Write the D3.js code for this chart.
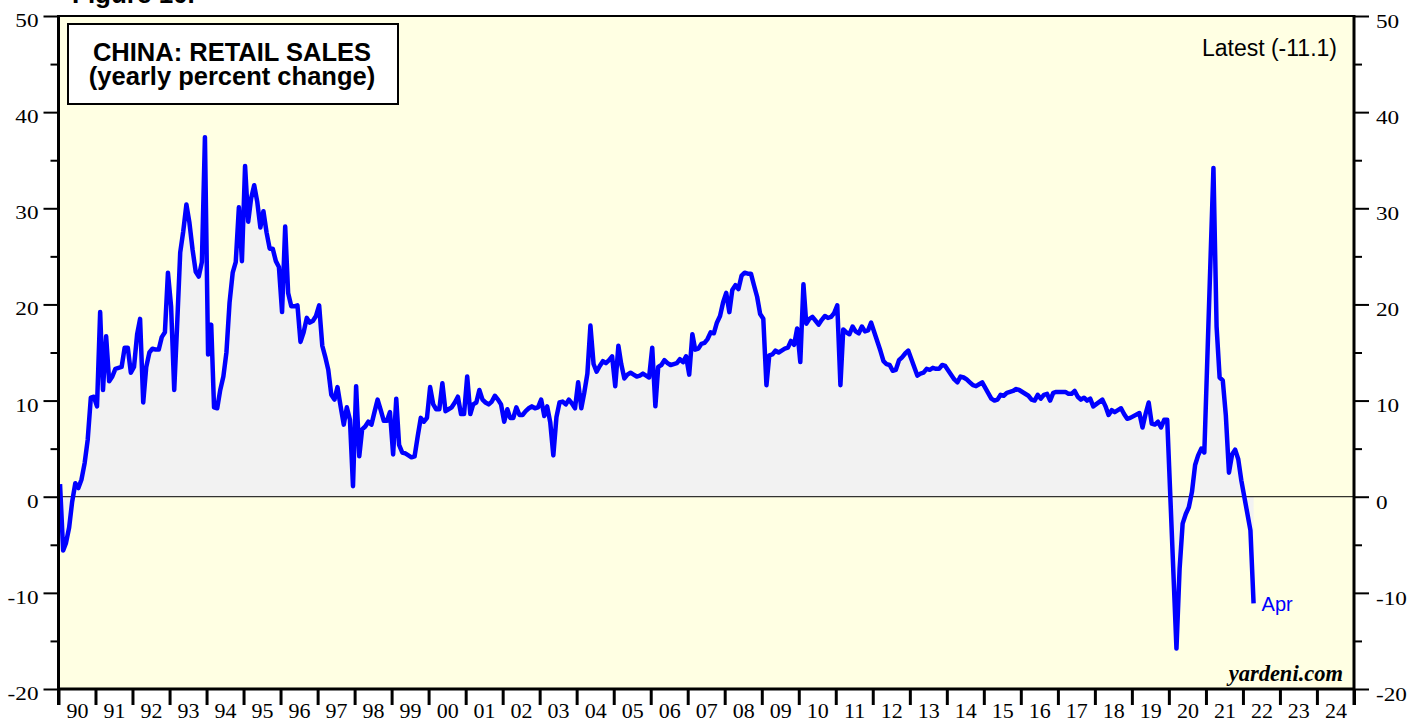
<!DOCTYPE html>
<html>
<head>
<meta charset="utf-8">
<script src="https://cdn.jsdelivr.net/npm/d3@7/dist/d3.min.js"></script>
<style>
  body { margin: 0; background: #fff; }
  svg { display: block; }
</style>
</head>
<body>
<svg id="chart" width="1419" height="721"></svg>
<script>
// monthly yearly % change, starting Jan 1990 (null = month not reported)
var sales1990s = [
  1.3, -5.6, -4.8, -3.2, -0.5, 1.4, 0.9, 1.8, 3.5, 5.9, 10.3, 10.4,
  9.4, 19.2, 11.1, 16.7, 12.0, 12.5, 13.3, 13.4, 13.5, 15.5, 15.5, 12.9,
  13.5, 16.9, 18.5, 9.8, 13.5, 15.0, 15.4, 15.3, 15.3, 16.6, 17.1, 23.3,
  19.8, 11.1, 17.7, 25.4, 27.6, 30.4, 28.5, 25.7, 23.4, 22.9, 24.4, 37.4,
  14.8, 17.9, 9.3, 9.2, 11.1, 12.5, 15.0, 20.2, 23.3, 24.4, 30.1, 24.5,
  34.4, 28.6, 31.0, 32.4, 30.7, 28.0, 29.7, 27.5, 25.8, 25.8, 24.5, 23.9,
  19.2, 28.1, 21.2, 19.8, 19.8, 19.9, 16.1, 17.1, 18.6, 18.1, 18.3, 18.8,
  19.9, 15.7, 14.6, 13.2, 10.6, 10.1, 11.4, 9.4, 7.5, 9.3, 8.0, 1.1,
  11.5, 4.2, 7.0, 7.3, 7.8, 7.5, 8.8, 10.1, 9.0, 7.9, 7.9, 8.8,
  4.4, 10.2, 5.4, 4.6, 4.5, 4.3, 4.1, 4.2, 6.3, 8.2, 7.8, 8.2
];
var sales2000s = [
  11.4, 9.6, 9.1, 9.1, 11.8, 8.9, 9.1, 9.3, 9.8, 10.4, 8.6, 8.6,
  12.5, 8.6, 9.6, 9.8, 11.1, 10.1, 9.8, 9.6, 9.9, 10.5, 10.1, 9.6,
  7.8, 9.1, 8.2, 8.2, 9.3, 8.5, 8.5, 8.9, 9.2, 9.4, 9.2, 9.3,
  10.1, 8.4, 9.4, 7.7, 4.3, 8.3, 9.8, 9.9, 9.6, 10.1, 9.7, 9.2,
  11.9, 9.2, 10.8, 12.8, 17.8, 13.8, 13.0, 13.6, 14.1, 13.9, 14.2, 14.6,
  11.5, 15.7, 13.8, 12.3, 12.7, 12.9, 12.7, 12.5, 12.6, 12.8, 12.6, 12.4,
  15.5, 9.4, 13.5, 13.7, 14.2, 13.9, 13.7, 13.8, 13.9, 14.3, 14.0, 14.6,
  12.7, 16.9, 15.3, 15.4, 15.9, 16.0, 16.4, 17.1, 17.0, 18.1, 18.8, 20.2,
  21.2, 19.2, 21.5, 22.0, 21.6, 23.0, 23.3, 23.2, 23.2, 22.0, 20.8, 19.0,
  18.5, 11.6, 14.7, 14.8, 15.2, 15.0, 15.2, 15.4, 15.5, 16.2, 15.8, 17.5
];
var sales2010s = [
  14.0, 22.1, 18.0, 18.5, 18.7, 18.3, 17.9, 18.4, 18.8, 18.6, 18.7, 19.1,
  19.9, 11.6, 17.4, 17.1, 16.9, 17.7, 17.2, 17.0, 17.7, 17.2, 17.3, 18.1,
  null, null, 15.2, 14.1, 13.8, 13.7, 13.1, 13.2, 14.2, 14.5, 14.9, 15.2,
  null, null, 12.6, 12.8, 12.9, 13.3, 13.2, 13.4, 13.3, 13.3, 13.7, 13.6,
  null, null, 12.2, 11.9, 12.5, 12.4, 12.2, 11.9, 11.6, 11.5, 11.7, 11.9,
  null, null, 10.2, 10.0, 10.1, 10.6, 10.5, 10.8, 10.9, 11.0, 11.2, 11.1,
  null, null, 10.5, 10.1, 10.0, 10.6, 10.2, 10.6, 10.7, 10.0, 10.8, 10.9,
  null, null, 10.9, 10.7, 10.7, 11.0, 10.4, 10.1, 10.3, 10.0, 10.2, 9.4,
  null, null, 10.1, 9.4, 8.5, 9.0, 8.8, 9.0, 9.2, 8.6, 8.1, 8.2,
  null, null, 8.7, 7.2, 8.6, 9.8, 7.6, 7.5, 7.8, 7.2, 8.0, 8.0
];
var sales2020s = [
  null, null, -15.8, -7.5, -2.8, -1.8, -1.1, 0.5, 3.3, 4.3, 5.0, 4.6,
  null, null, 34.2, 17.7, 12.4, 12.1, 8.5, 2.5, 4.4, 4.9, 3.9, 1.7,
  null, null, -3.5, -11.1
];
var firstYear = 1990;
var yMajor = [-20, -10, 0, 10, 20, 30, 40, 50];
var yMinor = [-15, -5, 5, 15, 25, 35, 45];
var yearLabels = d3.range(1990, 2025);
var latestLabel = "Latest (-11.1)";
var lastMonthLabel = "Apr";

var svg = d3.select("#chart");
var plotLeft = 58.5, plotRight = 1354, plotTop = 16, plotBottom = 689;

var x = d3.scaleTime()
    .domain([new Date(1990, 0, 1), new Date(2025, 0, 1)])
    .range([plotLeft, plotRight]);
var y = d3.scaleLinear()
    .domain([-20, 50])
    .range([plotBottom, plotTop]);

var data = sales1990s.concat(sales2000s, sales2010s, sales2020s)
    .map(function(v, i) { return { date: new Date(firstYear, i, 16), value: v }; })
    .filter(function(d) { return d.value !== null; });

// plot background
svg.append("rect")
    .attr("x", plotLeft).attr("y", plotTop)
    .attr("width", plotRight - plotLeft).attr("height", plotBottom - plotTop)
    .style("fill", "#ffffe3");

var area = d3.area()
    .x(function(d) { return x(d.date); })
    .y0(y(0))
    .y1(function(d) { return y(d.value); });

svg.append("path")
    .datum(data)
    .attr("d", area)
    .style("fill", "#f2f2f2");

svg.append("line")
    .attr("x1", plotLeft).attr("x2", plotRight)
    .attr("y1", y(0)).attr("y2", y(0))
    .style("stroke", "#000").style("stroke-width", 1);

var line = d3.line()
    .x(function(d) { return x(d.date); })
    .y(function(d) { return y(d.value); });

svg.append("path")
    .datum(data)
    .attr("d", line)
    .style("fill", "none")
    .style("stroke", "#0000ff")
    .style("stroke-width", 4.5)
    .style("stroke-linejoin", "round");

// stretch serif numbers a bit wider, like the original
function widen(sel, k) {
  sel.each(function() {
    var len = this.getComputedTextLength();
    this.setAttribute("textLength", len * k);
    this.setAttribute("lengthAdjust", "spacingAndGlyphs");
  });
}

function styleAxis(g, width) {
  g.select(".domain").remove();
  g.selectAll(".tick line").style("stroke", "#000").style("stroke-width", width);
  g.selectAll("text")
    .style("font-family", "'Liberation Serif', 'Times New Roman', serif")
    .style("fill", "#000");
}

var plainNumber = function(d) { return String(d); };

// left axis
var leftMinor = svg.append("g")
    .attr("transform", "translate(" + plotLeft + ",0)")
    .call(d3.axisLeft(y).tickValues(yMinor).tickSize(8).tickFormat(""));
styleAxis(leftMinor, 2);

var leftMajor = svg.append("g")
    .attr("transform", "translate(" + plotLeft + ",0)")
    .call(d3.axisLeft(y).tickValues(yMajor).tickSize(15).tickPadding(5).tickFormat(plainNumber));
styleAxis(leftMajor, 2);
leftMajor.selectAll("text").style("font-size", "19px").attr("dy", "0.55em");
widen(leftMajor.selectAll("text"), 1.22);

// right axis
var rightMinor = svg.append("g")
    .attr("transform", "translate(" + plotRight + ",0)")
    .call(d3.axisRight(y).tickValues(yMinor).tickSize(8).tickFormat(""));
styleAxis(rightMinor, 2);

var rightMajor = svg.append("g")
    .attr("transform", "translate(" + plotRight + ",0)")
    .call(d3.axisRight(y).tickValues(yMajor).tickSize(15).tickPadding(7).tickFormat(plainNumber));
styleAxis(rightMajor, 2);
rightMajor.selectAll("text").style("font-size", "19px").attr("dy", "0.6em");
widen(rightMajor.selectAll("text"), 1.22);

// bottom axis: year boundaries, labels in between
var yearTicks = svg.append("g")
    .attr("transform", "translate(0," + plotBottom + ")")
    .call(d3.axisBottom(x).ticks(d3.timeYear.every(1)).tickSize(16).tickFormat(""));
styleAxis(yearTicks, 3);

var yearText = svg.append("g")
    .attr("transform", "translate(0," + plotBottom + ")")
    .call(d3.axisBottom(x)
      .tickValues(yearLabels.map(function(yr) { return new Date(yr, 6, 2); }))
      .tickSize(0).tickPadding(13)
      .tickFormat(d3.timeFormat("%y")));
styleAxis(yearText, 0);
yearText.selectAll("text").style("font-size", "22px");

// frame
svg.append("line")
    .attr("x1", plotLeft).attr("x2", plotRight).attr("y1", plotTop).attr("y2", plotTop)
    .style("stroke", "#000").style("stroke-width", 2);
svg.append("line")
    .attr("x1", plotLeft).attr("x2", plotRight).attr("y1", plotBottom).attr("y2", plotBottom)
    .style("stroke", "#000").style("stroke-width", 3);
svg.append("line")
    .attr("x1", plotLeft).attr("x2", plotLeft).attr("y1", plotTop - 1).attr("y2", plotBottom + 16)
    .style("stroke", "#000").style("stroke-width", 3);
svg.append("line")
    .attr("x1", plotRight).attr("x2", plotRight).attr("y1", plotTop - 1).attr("y2", plotBottom + 16)
    .style("stroke", "#000").style("stroke-width", 3);

// title box
svg.append("rect")
    .attr("x", 68).attr("y", 24)
    .attr("width", 330).attr("height", 80)
    .style("fill", "#fff")
    .style("stroke", "#000").style("stroke-width", 2);

var sans = "'Liberation Sans', Arial, sans-serif";
svg.append("text")
    .attr("x", 232).attr("y", 61)
    .attr("text-anchor", "middle")
    .style("font-family", sans).style("font-weight", "bold").style("font-size", "25.5px")
    .text("CHINA: RETAIL SALES");
svg.append("text")
    .attr("x", 232).attr("y", 85)
    .attr("text-anchor", "middle")
    .style("font-family", sans).style("font-weight", "bold").style("font-size", "25.5px")
    .text("(yearly percent change)");

svg.append("text")
    .attr("x", 72).attr("y", 3)
    .style("font-family", sans).style("font-weight", "bold").style("font-size", "26px")
    .text("Figure 10.");

svg.append("text")
    .attr("x", 1337).attr("y", 56)
    .attr("text-anchor", "end")
    .style("font-family", sans).style("font-size", "23px")
    .text(latestLabel);

var last = data[data.length - 1];
svg.append("text")
    .attr("x", x(last.date) + 8).attr("y", y(last.value) + 8)
    .style("font-family", sans).style("font-size", "20px")
    .style("fill", "#0000ff")
    .text(lastMonthLabel);

svg.append("text")
    .attr("x", 1343).attr("y", 681)
    .attr("text-anchor", "end")
    .style("font-family", "'Liberation Serif', 'Times New Roman', serif")
    .style("font-weight", "bold").style("font-style", "italic").style("font-size", "22.5px")
    .text("yardeni.com");
</script>
</body>
</html>
